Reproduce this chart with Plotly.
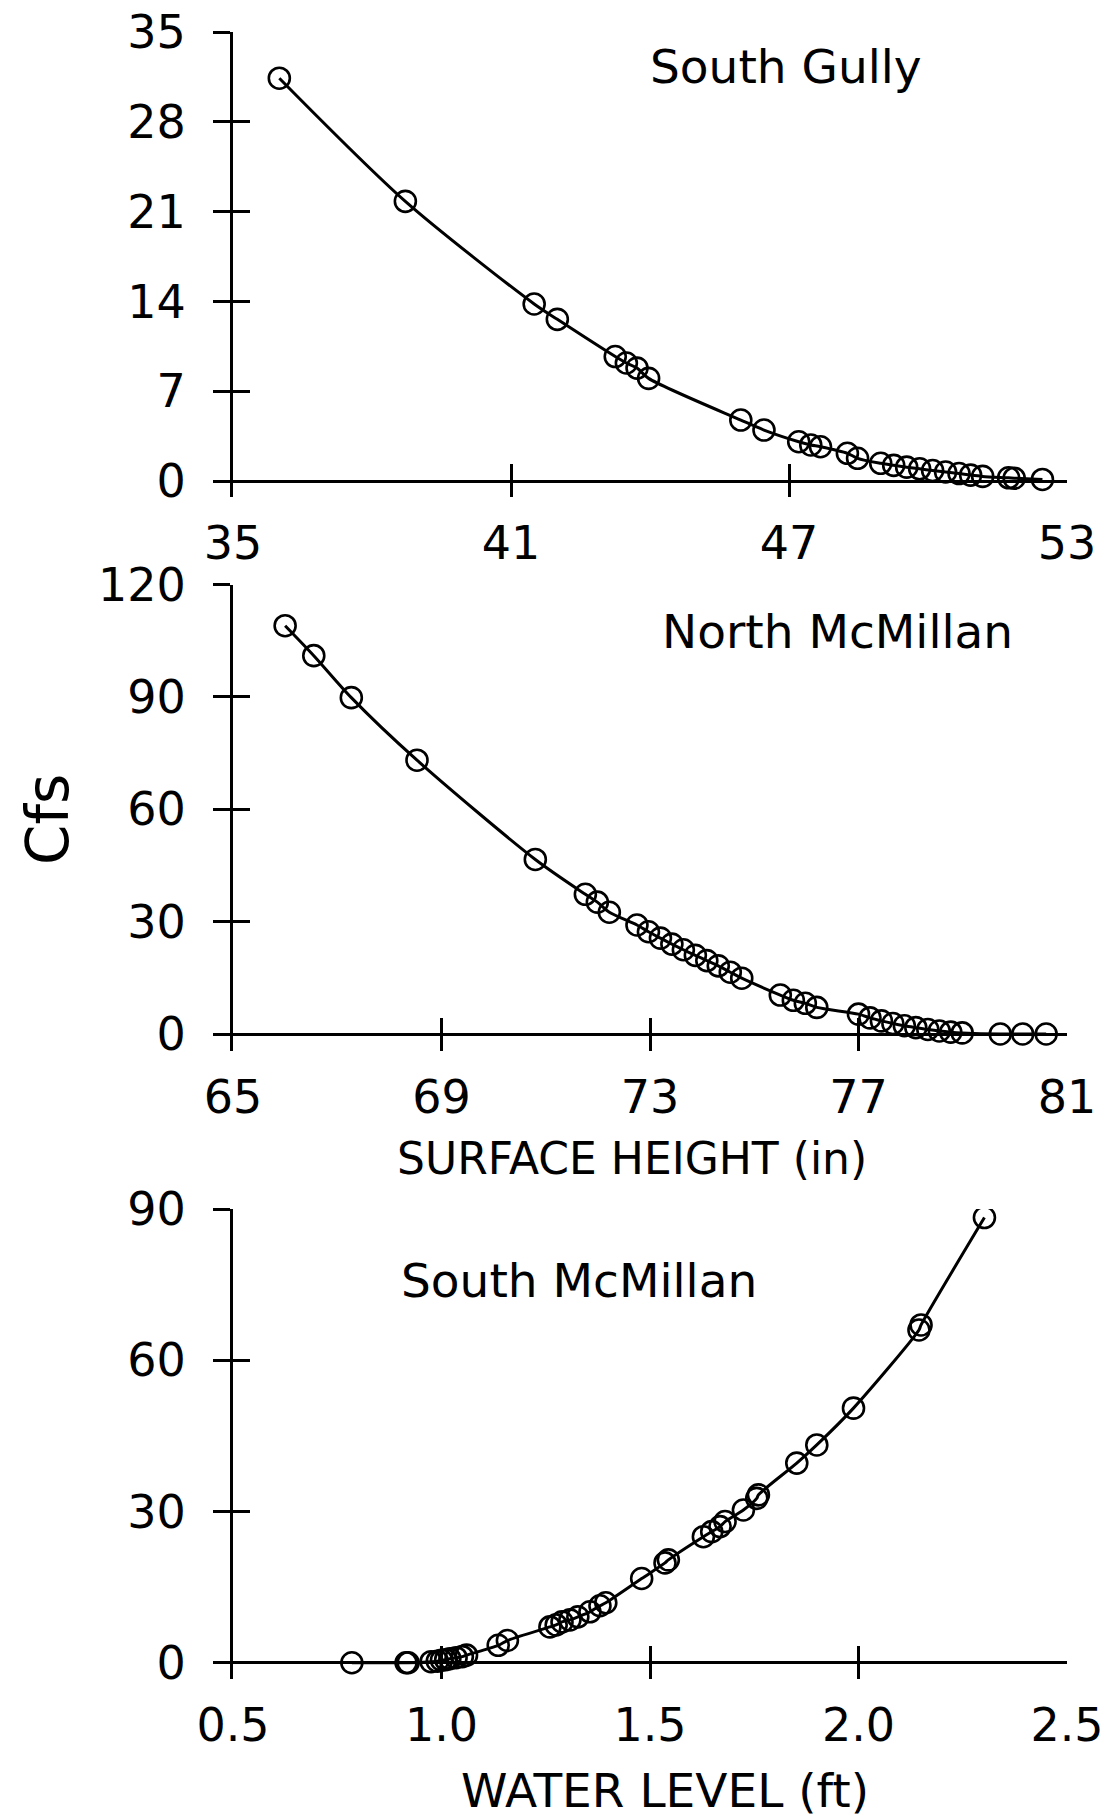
import plotly.graph_objects as go

# ---- South Gully: surface height (in) vs discharge (cfs) ----
sg_height = [36.0, 38.72, 41.5, 42.0, 43.25, 43.49, 43.72, 43.97, 45.96, 46.46,
             47.21, 47.47, 47.68, 48.26, 48.48, 48.98, 49.26, 49.54, 49.82,
             50.10, 50.38, 50.67, 50.92, 51.18, 51.74, 51.86, 52.47]
sg_flow = [31.4, 21.8, 13.8, 12.6, 9.7, 9.2, 8.8, 8.0, 4.75, 3.97,
           3.06, 2.81, 2.67, 2.16, 1.77, 1.38, 1.22, 1.08, 0.95,
           0.82, 0.70, 0.58, 0.46, 0.36, 0.25, 0.22, 0.12]
sg_xticks = [35, 41, 47, 53]
sg_yticks = [0, 7, 14, 21, 28, 35]

# ---- North McMillan ----
nm_height = [66.0, 66.55, 67.27, 68.53, 70.8, 71.76, 71.99, 72.22,
             72.75, 72.97, 73.2, 73.42, 73.64, 73.87, 74.09, 74.31, 74.54, 74.76,
             75.5, 75.75, 75.98, 76.2,
             77.0, 77.22, 77.44, 77.66, 77.88, 78.1, 78.33, 78.55, 78.77, 78.99,
             79.72, 80.15, 80.6]
nm_flow = [109.0, 101.0, 89.8, 73.1, 46.6, 37.3, 35.2, 32.5,
           29.1, 27.3, 25.6, 24.0, 22.5, 21.0, 19.6, 18.2, 16.5, 14.9,
           10.4, 9.0, 8.2, 7.1,
           5.3, 4.3, 3.5, 2.8, 2.2, 1.7, 1.2, 0.8, 0.5, 0.3,
           0.0, 0.0, 0.0]
nm_xticks = [65, 69, 73, 77, 81]
nm_yticks = [0, 30, 60, 90, 120]

# ---- South McMillan: water level (ft) vs discharge (cfs) ----
sm_level = [0.785, 0.915, 0.92, 0.975, 0.99, 1.0, 1.01, 1.02, 1.035, 1.05, 1.06,
            1.136, 1.158, 1.26, 1.275, 1.289, 1.308, 1.327, 1.356, 1.38, 1.394,
            1.48, 1.536, 1.544, 1.628, 1.648, 1.668, 1.68, 1.724, 1.756, 1.76,
            1.852, 1.9, 1.988, 2.145, 2.15, 2.302]
sm_flow = [0.0, 0.0, 0.0, 0.2, 0.3, 0.5, 0.6, 0.8, 1.0, 1.2, 1.5,
           3.45, 4.4, 7.1, 7.5, 8.1, 8.5, 9.1, 10.1, 11.3, 11.9,
           16.7, 19.8, 20.4, 25.0, 26.0, 27.0, 28.0, 30.3, 32.6, 33.3,
           39.6, 43.2, 50.5, 66.0, 67.0, 88.3]
sm_xticks = [0.5, 1.0, 1.5, 2.0, 2.5]
sm_xticklabels = ["0.5", "1.0", "1.5", "2.0", "2.5"]
sm_yticks = [0, 30, 60, 90]

W, H = 1108, 1820
FONT = "DejaVu Sans"
INK = "black"


def px_x(p):
    return p / W


def px_y(p):
    return 1 - p / H


x_dom = [px_x(233), px_x(1067)]

# panels: (x data, y data, x ticks, x tick text, y ticks, x range, y range, y domain)
panels = [
    (sg_height, sg_flow, sg_xticks, [str(v) for v in sg_xticks], sg_yticks,
     [35, 53], [-1.247, 35], [px_y(497), px_y(32)]),
    (nm_height, nm_flow, nm_xticks, [str(v) for v in nm_xticks], nm_yticks,
     [65, 81], [-4.4, 120], [px_y(1050.5), px_y(584.5)]),
    (sm_level, sm_flow, sm_xticks, sm_xticklabels, sm_yticks,
     [0.5, 2.5], [-3.23, 90], [px_y(1679), px_y(1209)]),
]

fig = go.Figure()
layout = dict(
    template="none",
    width=W, height=H,
    margin=dict(l=0, r=0, t=0, b=0, pad=0),
    paper_bgcolor="white", plot_bgcolor="white",
    showlegend=False,
    font=dict(family=FONT, color=INK),
)

tick_font = dict(family=FONT, size=46, color=INK)

for i, (xs, ys, xt, xtt, yt, xr, yr, ydom) in enumerate(panels, start=1):
    sfx = "" if i == 1 else str(i)
    xa, ya = "x" + sfx, "y" + sfx
    fig.add_trace(go.Scatter(
        x=xs, y=ys, xaxis=xa, yaxis=ya,
        mode="lines+markers",
        line=dict(color=INK, width=3, shape="spline", smoothing=0.8),
        marker=dict(symbol="circle-open", size=21, color=INK,
                    line=dict(color=INK, width=2.6)),
        hoverinfo="x+y",
    ))
    layout["xaxis" + sfx] = dict(
        domain=x_dom, anchor=ya, range=xr, automargin=False,
        tickmode="array", tickvals=xt, ticktext=xtt,
        ticks="inside", ticklen=33, tickwidth=2.6, tickcolor=INK,
        showline=False, showgrid=False, zeroline=False,
        tickfont=tick_font, ticklabelstandoff=15,
    )
    layout["yaxis" + sfx] = dict(
        domain=ydom, anchor=xa, range=yr, automargin=False,
        tickmode="array", tickvals=yt,
        ticks="outside", ticklen=17, tickwidth=2.6, tickcolor=INK,
        showline=True, linewidth=3, linecolor=INK,
        showgrid=False,
        zeroline=True, zerolinewidth=2.6, zerolinecolor=INK,
        tickfont=tick_font, ticklabelstandoff=18,
    )
    # inner half of the crossing y ticks
    oy = "y" + str(i + 3)
    fig.add_trace(go.Scatter(x=[], y=[], xaxis=xa, yaxis=oy,
                             mode="markers", hoverinfo="skip"))
    layout["yaxis" + str(i + 3)] = dict(
        overlaying=ya, anchor=xa, range=yr, side="left", automargin=False,
        tickmode="array", tickvals=yt,
        ticks="inside", ticklen=17, tickwidth=2.6, tickcolor=INK,
        showticklabels=False, showline=False, showgrid=False, zeroline=False,
    )

fig.update_layout(**layout)

label_specs = [
    ("South Gully", 786, 66.5, 47, 0),
    ("North McMillan", 837, 631, 47, 0),
    ("South McMillan", 579, 1280, 47, 0),
    ("SURFACE HEIGHT (in)", 632, 1158, 44, 0),
    ("WATER LEVEL (ft)", 665, 1790, 47, 0),
    ("Cfs", 48, 820, 58, -90),
]
for text, cx, cy, size, ang in label_specs:
    fig.add_annotation(
        text=text, xref="paper", yref="paper",
        x=px_x(cx), y=px_y(cy), xanchor="center", yanchor="middle",
        showarrow=False, textangle=ang,
        font=dict(family=FONT, size=size, color=INK),
    )

fig.write_html("out.html")
